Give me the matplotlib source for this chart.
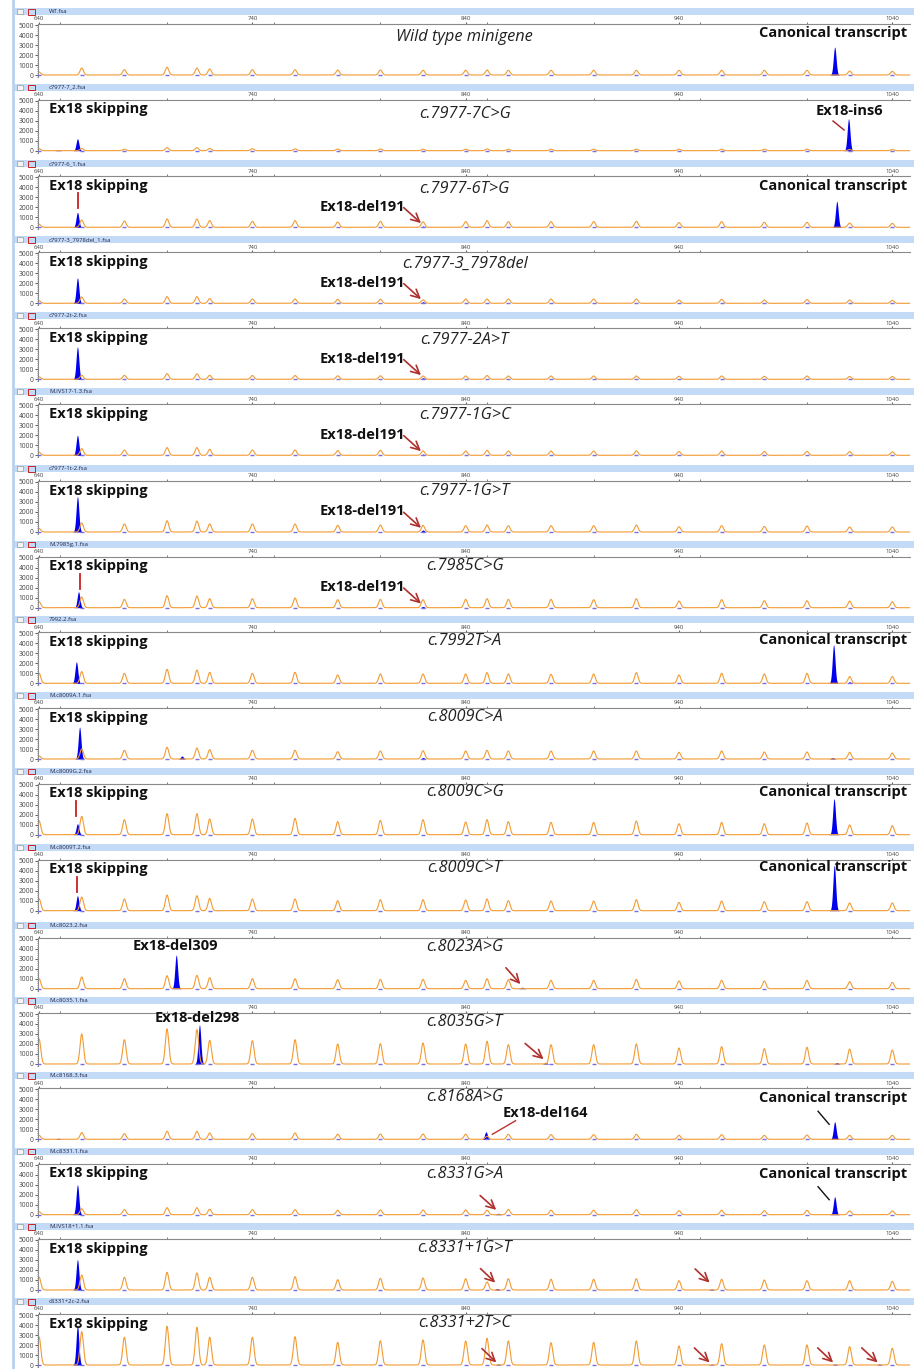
import numpy as np
import matplotlib.pyplot as plt
from matplotlib.patches import Rectangle
from matplotlib.ticker import MultipleLocator

plt.rcParams['font.family'] = ['Open Sans', 'DejaVu Sans']

W, H = 914, 1369

# size standard peaks in the 640-1040 window
std_sizes = [640, 660, 680, 700, 714, 720, 740, 760, 780, 800, 820, 840, 850,
             860, 880, 900, 920, 940, 960, 980, 1000, 1020, 1040]

file_names = ['WT.fsa', 'c7977-7_2.fsa', 'c7977-6_1.fsa', 'c7977-3_7978del_1.fsa',
              'c7977-2t-2.fsa', 'M.IVS17-1.3.fsa', 'c7977-1t-2.fsa', 'M.7985g.1.fsa',
              '7992.2.fsa', 'M.c8009A.1.fsa', 'M.c8009G.2.fsa', 'M.c8009T.2.fsa',
              'M.c8023.2.fsa', 'M.c8035.1.fsa', 'M.c8168.3.fsa', 'M.c8331.1.fsa',
              'M.IVS18+1.1.fsa', 'c8331+2c-2.fsa']

mutations = ['Wild type minigene', 'c.7977-7C>G', 'c.7977-6T>G', 'c.7977-3_7978del',
             'c.7977-2A>T', 'c.7977-1G>C', 'c.7977-1G>T', 'c.7985C>G', 'c.7992T>A',
             'c.8009C>A', 'c.8009C>G', 'c.8009C>T', 'c.8023A>G', 'c.8035G>T',
             'c.8168A>G', 'c.8331G>A', 'c.8331+1G>T', 'c.8331+2T>C']

# heights of the orange size-standard peaks, one row per panel
std_heights = [
    [300, 700, 530, 770, 700, 600, 530, 530, 500, 500, 480, 470, 500, 470, 470, 470, 470, 470, 470, 470, 470, 400, 370],
    [200, 230, 150, 300, 300, 220, 200, 180, 170, 170, 150, 150, 180, 150, 150, 150, 150, 150, 150, 150, 150, 120, 120],
    [300, 730, 630, 830, 830, 670, 600, 670, 530, 600, 550, 570, 670, 570, 570, 570, 600, 470, 570, 500, 500, 430, 400],
    [250, 630, 430, 670, 670, 470, 430, 430, 400, 400, 350, 430, 430, 430, 430, 430, 430, 330, 400, 330, 380, 330, 300],
    [250, 400, 400, 570, 550, 400, 380, 380, 350, 350, 330, 330, 380, 330, 330, 330, 330, 300, 330, 300, 330, 280, 280],
    [300, 670, 530, 770, 770, 600, 530, 530, 470, 500, 450, 430, 500, 430, 430, 430, 450, 380, 430, 380, 400, 380, 350],
    [350, 900, 800, 1130, 1100, 800, 800, 800, 670, 700, 650, 630, 700, 630, 630, 630, 700, 530, 630, 550, 600, 500, 500],
    [600, 1070, 830, 1200, 1170, 900, 900, 970, 800, 830, 800, 830, 900, 830, 830, 800, 900, 670, 800, 700, 700, 670, 600],
    [1000, 1170, 1000, 1400, 1330, 1100, 1000, 1100, 830, 930, 930, 930, 1070, 930, 900, 930, 1070, 830, 1000, 930, 1000, 670, 670],
    [300, 1000, 870, 1170, 1100, 930, 870, 870, 730, 800, 830, 800, 870, 800, 800, 800, 800, 670, 800, 700, 700, 670, 600],
    [1400, 1830, 1500, 2100, 2100, 1570, 1570, 1630, 1300, 1430, 1500, 1270, 1500, 1300, 1230, 1230, 1370, 1100, 1230, 1100, 1170, 970, 900],
    [1200, 1370, 1170, 1570, 1500, 1230, 1170, 1170, 1000, 1100, 1100, 1070, 1170, 1000, 970, 970, 1100, 830, 970, 900, 900, 770, 770],
    [1000, 1170, 1000, 1300, 1330, 1100, 1000, 1000, 900, 930, 930, 830, 1000, 900, 830, 830, 930, 770, 830, 770, 830, 700, 630],
    [2500, 3000, 2430, 3500, 3430, 2370, 2330, 2430, 2000, 2030, 2100, 2000, 2270, 1930, 1930, 1930, 2000, 1600, 1730, 1530, 1670, 1500, 1400],
    [400, 670, 570, 800, 800, 630, 570, 630, 500, 530, 530, 500, 300, 500, 470, 470, 500, 400, 470, 400, 430, 400, 400],
    [300, 600, 500, 700, 700, 550, 500, 500, 450, 470, 470, 470, 450, 530, 450, 450, 500, 400, 450, 400, 430, 380, 380],
    [1300, 1500, 1270, 1770, 1700, 1270, 1270, 1330, 1030, 1170, 1200, 1130, 800, 1130, 1070, 1070, 1130, 930, 1070, 1000, 930, 930, 870],
    [2800, 3330, 2770, 3870, 3770, 2770, 2770, 2830, 2270, 2430, 2500, 2400, 2670, 2400, 2230, 2270, 2400, 1900, 2130, 2000, 2000, 1830, 1670],
]

# blue sample peaks (size in bp, height in RFU)
sample_peaks = [
    [(1013, 2800)],
    [(649, 100), (658, 1200), (1019.5, 3200)],
    [(658, 1500), (820, 120), (1014, 2600)],
    [(658, 2550), (820, 150)],
    [(658, 3250), (820, 150)],
    [(658, 2000), (820, 120)],
    [(658, 3550), (820, 200)],
    [(658.5, 1600), (820, 120)],
    [(657.5, 2150), (1012.5, 3850), (1020, 150)],
    [(659, 3200), (707, 300), (820, 150), (1012, 150)],
    [(658, 1100), (1012.7, 3600)],
    [(658, 1500), (1012.8, 4550)],
    [(704.3, 3370), (866.5, 150)],
    [(715.2, 3930), (877.5, 150), (1014, 150)],
    [(649, 100), (849.5, 750), (1013, 1760)],
    [(658, 3000), (855.3, 150), (1013, 1800)],
    [(658, 3050), (854.8, 150), (955.3, 100)],
    [(658, 4000), (855.3, 100), (955.3, 80), (1013.2, 100), (1034, 100)],
]

# layout: top of each panel's title bar, in pixels
panel_tops = [8, 83.7, 160.3, 236.3, 312.3, 388.3, 465, 540.7, 616.3, 692,
              767.7, 843.7, 921.7, 997, 1072.3, 1147.7, 1223, 1298]
mut_y = [3800, 3700, 3800, 3900, 3900, 4000, 4100, 4170, 4200, 4200,
         4270, 4270, 4200, 4200, 4230, 4100, 4200, 4200]

skipping_panels = [1, 2, 3, 4, 5, 6, 7, 8, 9, 10, 11, 15, 16, 17]
canonical_y = {0: 4170, 2: 4170, 8: 4330, 10: 4300, 11: 4340, 14: 4160, 15: 4040}
del191_panels = [2, 3, 4, 5, 6, 7]
red_ticks = {2: 658.1, 7: 659.2, 10: 657.5, 11: 657.8}
red_arrows = {
    12: [(858, 2300, 866.5, 250)],
    13: [(866.9, 2230, 877.5, 300)],
    15: [(845.8, 2100, 855.3, 300)],
    16: [(846, 2330, 854.8, 550), (946.6, 2300, 955.3, 550)],
    17: [(846.7, 1830, 855.3, 60), (946.3, 1900, 955.3, 60),
         (1004.1, 1900, 1013.2, 60), (1024.7, 1900, 1034.1, 60)],
}

ORANGE = '#f39b33'
BLUE = '#0000ee'
DARKRED = '#b0302c'
HEADER = '#c4dbf7'
BOLD = dict(fontsize=10.5, fontweight='bold', va='center', color='#111111')

fig = plt.figure(figsize=(W / 100, H / 100), dpi=100)
fig.patch.set_facecolor('white')


def fx(px):
    return px / W


def fy(py):
    return 1 - py / H


# left frame line
fig.add_artist(plt.Line2D([fx(13), fx(13)], [0, 1], color='#b9d1ee', lw=2))

x = np.linspace(639.5, 1048.3, 5000)

for i, top in enumerate(panel_tops):
    # title bar with icons and file name
    fig.add_artist(Rectangle((fx(14), fy(top + 7)), fx(900), 7 / H, color=HEADER, lw=0))
    fig.add_artist(Rectangle((fx(17), fy(top + 6)), 6 / W, 5 / H, facecolor='#f4f4f4',
                             edgecolor='#999999', lw=0.5))
    fig.add_artist(Rectangle((fx(28), fy(top + 6.5)), 7 / W, 5.5 / H, facecolor='none',
                             edgecolor='#cc2222', lw=0.7))
    fig.text(fx(49), fy(top + 3.6), file_names[i], fontsize=4.3, color='#222244',
             va='center', ha='left')

    ax = fig.add_axes([fx(38), fy(top + 69), (910 - 38) / W, 53 / H])
    ax.set_xlim(639.5, 1048.3)
    ax.set_ylim(-200, 5100)

    orange = np.zeros_like(x)
    for s, h in zip(std_sizes, std_heights[i]):
        orange += h * np.exp(-0.5 * ((x - s) / 0.8) ** 2)
    blue = np.zeros_like(x)
    for s, h in sample_peaks[i]:
        blue += h * np.exp(-0.5 * ((x - s) / 0.65) ** 2)

    ax.plot(x, orange, color=ORANGE, lw=0.8)
    ax.fill_between(x, 0, blue, color=BLUE, lw=0)
    ax.scatter(std_sizes, [20] * len(std_sizes), marker='_', s=12, color='#7b6fe0',
               lw=1, zorder=3)

    for side in ['right', 'bottom']:
        ax.spines[side].set_visible(False)
    for side in ['top', 'left']:
        ax.spines[side].set_color('#8a8a8a')
        ax.spines[side].set_linewidth(0.8)
    ax.xaxis.set_ticks_position('top')
    ax.set_xticks([640, 740, 840, 940, 1040])
    ax.xaxis.set_minor_locator(MultipleLocator(50))
    ax.tick_params(axis='x', which='both', labelsize=4.3, length=1.5, pad=0.5,
                   colors='#666666', labelcolor='#444444')
    ax.set_yticks(range(0, 5001, 1000))
    ax.yaxis.set_minor_locator(MultipleLocator(200))
    ax.tick_params(axis='y', which='major', labelsize=4.8, length=2, pad=1,
                   colors='#666666', labelcolor='#444444')
    ax.tick_params(axis='y', which='minor', length=1, colors='#888888')

    # annotations
    ax.text(839.5, mut_y[i], mutations[i], fontsize=11.8, style='italic',
            ha='center', va='center', color='#222222')
    if i in skipping_panels:
        ax.text(644.5, 4130, 'Ex18 skipping', ha='left', **BOLD)
    if i in canonical_y:
        ax.text(1047, canonical_y[i], 'Canonical transcript', ha='right', **BOLD)
    if i in del191_panels:
        ax.text(791.4, 2050, 'Ex18-del191', ha='center', **BOLD)
        ax.annotate('', xy=(820, 230), xytext=(810, 2150),
                    arrowprops=dict(arrowstyle='->,head_length=0.6,head_width=0.3',
                                    color=DARKRED, lw=1.2))
    if i in red_ticks:
        ax.plot([red_ticks[i]] * 2, [1900, 3400], color='#cc2020', lw=1.3)
    for x0, y0, x1, y1 in red_arrows.get(i, []):
        ax.annotate('', xy=(x1, y1), xytext=(x0, y0),
                    arrowprops=dict(arrowstyle='->,head_length=0.6,head_width=0.3',
                                    color=DARKRED, lw=1.2))

    if i == 1:
        ax.text(1020, 3970, 'Ex18-ins6', ha='center', **BOLD)
        ax.plot([1012.2, 1017.4], [2970, 2070], color='#a02020', lw=1)
    if i == 12:
        ax.text(704.1, 4300, 'Ex18-del309', ha='center', **BOLD)
    if i == 13:
        ax.text(714.4, 4570, 'Ex18-del298', ha='center', **BOLD)
    if i == 14:
        ax.text(877.2, 2600, 'Ex18-del164', ha='center', **BOLD)
        ax.plot([863.4, 852.5], [1860, 500], color='#c03030', lw=1)
    if i in (14, 15):
        ax.plot([1005.2, 1010.4], [2800, 1500], color='#111111', lw=1)

fig.savefig('out.png', dpi=100)
